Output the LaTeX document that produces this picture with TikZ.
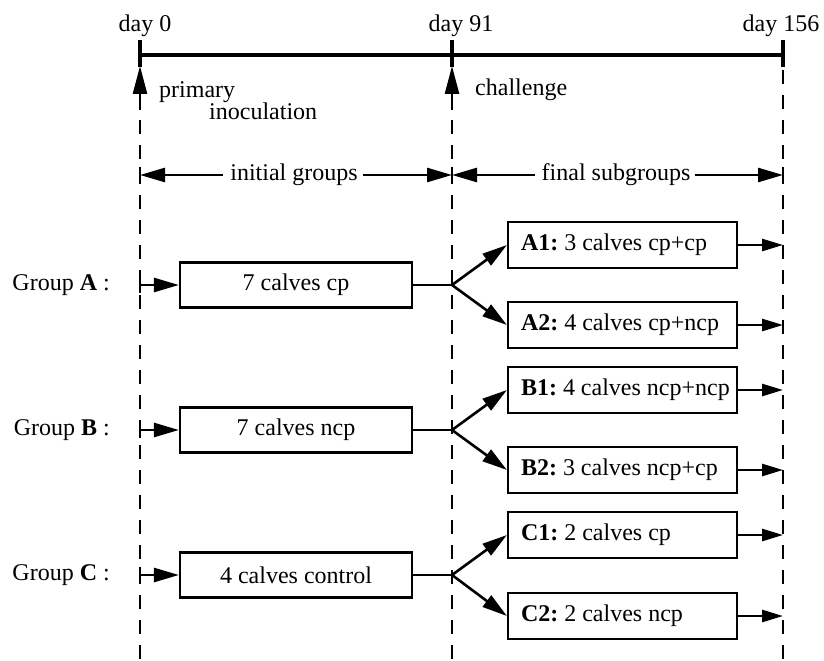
\documentclass[tikz,border=0pt]{standalone}
\usepackage{fontspec}
\setmainfont{Liberation Serif}
\usetikzlibrary{arrows.meta}
\newcommand{\subtxt}[1]{\makebox[212bp][l]{\hspace*{4.5bp}#1}}
\begin{document}
\frenchspacing
\begin{tikzpicture}[x=1bp,y=-1bp,
  txt/.style={font=\fontsize{24bp}{28bp}\selectfont, inner sep=0pt},
  grpbox/.style={draw, line width=2.2bp, minimum width=232bp, minimum height=45bp, inner sep=0pt, font=\fontsize{24bp}{28bp}\selectfont},
  subbox/.style={draw, line width=2.2bp, inner xsep=8.5bp, inner ysep=0pt, minimum height=46bp, font=\fontsize{24bp}{28bp}\selectfont},
  vdash/.style={line width=2bp, dash pattern=on 14bp off 11bp},
  bigarrow/.style={line width=2.6bp, -{Triangle[length=25bp,width=14bp]}},
  smallarrow/.style={line width=2.6bp, -{Triangle[length=21bp,width=12bp]}},
  tick/.style={line width=2.2bp}
]
\useasboundingbox (0,0) rectangle (824,661);

% coordinates
\coordinate (t0) at (140,55);
\coordinate (t91) at (452,55);
\coordinate (t156) at (783,55);

% dashed vertical lines
\coordinate (d0top) at (140,120);
\coordinate (d0bot) at (140,661);
\coordinate (d91top) at (452,120);
\coordinate (d91bot) at (452,661);
\coordinate (d156top) at (783,70);
\coordinate (d156bot) at (783,661);
\draw[vdash] (d0top) -- (d0bot);
\draw[vdash] (d91top) -- (d91bot);
\draw[vdash] (d156top) -- (d156bot);

% timeline
\draw[line width=4bp] (t0) -- (t156);
\foreach \x in {140,452,783} \draw[line width=3.2bp] (\x,40) -- (\x,67);

% day labels
\node[txt, anchor=base] (lab0) at (145,32) {day 0};
\node[txt, anchor=base] (lab91) at (461,32) {day 91};
\node[txt, anchor=base] (lab156) at (781,32) {day 156};

% up arrows
\coordinate (u0s) at (140,110);
\coordinate (u0e) at (140,66);
\coordinate (u91s) at (452,110);
\coordinate (u91e) at (452,66);
\draw[line width=2.6bp, -{Triangle[length=28bp,width=14bp]}] (u0s) -- (u0e);
\draw[line width=2.6bp, -{Triangle[length=28bp,width=14bp]}] (u91s) -- (u91e);

\node[txt, anchor=base west] (prim) at (159,98) {primary};
\node[txt, anchor=base west] (inoc) at (209,120) {inoculation};
\node[txt, anchor=base west] (chal) at (475,96) {challenge};

% dimension rows
\coordinate (igl) at (140,175);
\coordinate (igr) at (452,175);
\coordinate (fsl) at (452,175);
\coordinate (fsr) at (783,175);
\node[txt, anchor=center] (ig) at (294,175) {initial groups};
\node[txt, anchor=center] (fs) at (616,175) {final subgroups};
\draw[bigarrow] (ig.west) ++(-7,0) -- (igl);
\draw[bigarrow] (ig.east) ++(5,0) -- (igr);
\draw[bigarrow] (fs.west) ++(-6,0) -- (fsl);
\draw[bigarrow] (fs.east) ++(4,0) -- (fsr);
\draw[tick] (140,167) -- (140,183);
\draw[tick] (452,167) -- (452,183);
\draw[tick] (783,167) -- (783,183);

% groups
\foreach \g/\y/\txt in {A/285/7 calves cp, B/430/7 calves ncp, C/575/4 calves control}{
  \node[txt, anchor=east] (lab\g) at (110,\y) {Group \textbf{\g} :};
  \node[grpbox] (grp\g) at (296,\y) {\txt};
  \coordinate (in\g) at (140,\y);
  \coordinate (br\g) at (452,\y);
  \draw[tick] (140,\y-8) -- (140,\y+8);
  \draw[bigarrow] (in\g) -- (grp\g.west);
  \draw[line width=2.2bp] (grp\g.east) -- (br\g);
}

% subgroups
\node[subbox] (A1) at (622.5,245) {\subtxt{\textbf{A1:} 3 calves cp+cp}};
\node[subbox] (A2) at (622.5,325) {\subtxt{\textbf{A2:} 4 calves cp+ncp}};
\node[subbox] (B1) at (622.5,390) {\subtxt{\textbf{B1:} 4 calves ncp+ncp}};
\node[subbox] (B2) at (622.5,470) {\subtxt{\textbf{B2:} 3 calves ncp+cp}};
\node[subbox] (C1) at (622.5,535) {\subtxt{\textbf{C1:} 2 calves cp}};
\node[subbox] (C2) at (622.5,616) {\subtxt{\textbf{C2:} 2 calves ncp}};

\foreach \g in {A,B,C}{
  \draw[bigarrow] (br\g) -- (\g1.west);
  \draw[bigarrow] (br\g) -- (\g2.west);
}

\foreach \s/\y in {A1/245,A2/325,B1/390,B2/470,C1/535,C2/616}{
  \coordinate (end\s) at (783,\y);
  \draw[smallarrow] (\s.east) -- (end\s);
}
\end{tikzpicture}
\end{document}
